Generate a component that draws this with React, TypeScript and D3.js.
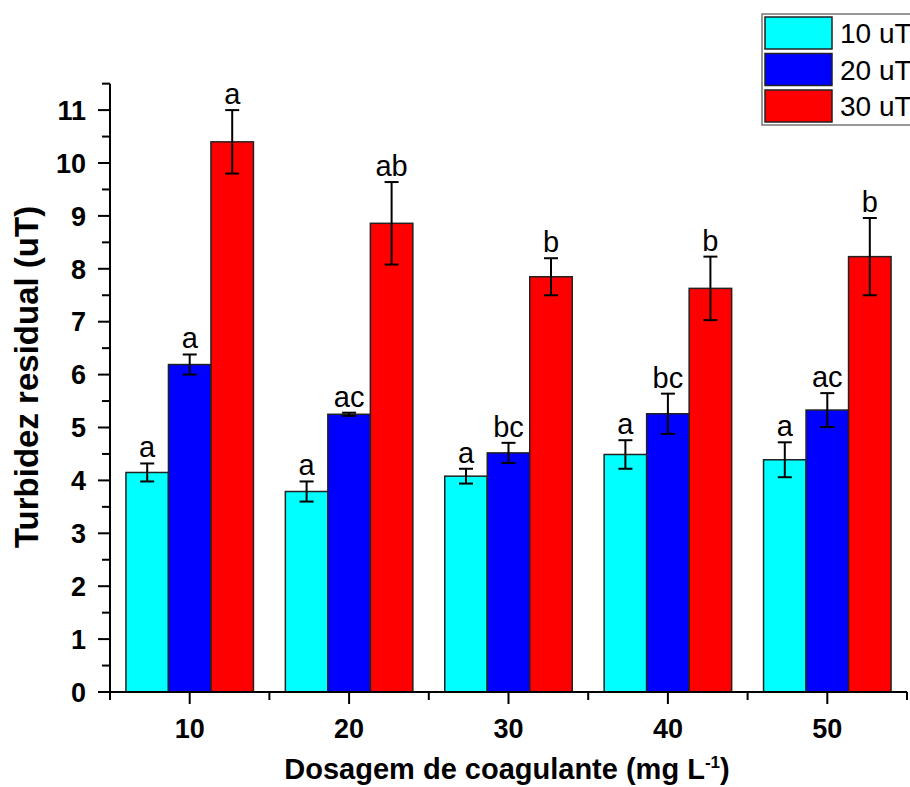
import React from "react";
import * as d3 from "d3";

const categories = ["10", "20", "30", "40", "50"];
const seriesNames = ["10 uT", "20 uT", "30 uT"];
const colors = ["#00FFFF", "#0000FF", "#FF0000"];
const values10 = [4.15, 3.79, 4.08, 4.49, 4.39];
const values20 = [6.19, 5.25, 4.52, 5.26, 5.33];
const values30 = [10.4, 8.86, 7.85, 7.63, 8.23];
const errors10 = [0.17, 0.19, 0.14, 0.27, 0.33];
const errors20 = [0.19, 0.03, 0.19, 0.38, 0.32];
const errors30 = [0.6, 0.78, 0.35, 0.6, 0.73];
const letters10 = ["a", "a", "a", "a", "a"];
const letters20 = ["a", "ac", "bc", "bc", "ac"];
const letters30 = ["a", "ab", "b", "b", "b"];
const yTicks = [0, 1, 2, 3, 4, 5, 6, 7, 8, 9, 10, 11];
const yMinorTicks = [0.5, 1.5, 2.5, 3.5, 4.5, 5.5, 6.5, 7.5, 8.5, 9.5, 10.5, 11.5];

const FONT = "'Liberation Sans', Arial, Helvetica, sans-serif";

export default function App() {
  const W = 910;
  const H = 787;
  const x0 = 110;
  const x1 = 907;
  const yBottom = 692;
  const y = d3.scaleLinear().domain([0, 11.5]).range([yBottom, yBottom - 11.5 * 52.9]);
  const x = d3.scaleBand<string>().domain(categories).range([x0, x1]).padding(0);
  const xs = d3
    .scaleBand<number>()
    .domain([0, 1, 2])
    .range([0, x.bandwidth()])
    .paddingInner(0)
    .paddingOuter(0.375);

  const vals = [values10, values20, values30];
  const errs = [errors10, errors20, errors30];
  const lets = [letters10, letters20, letters30];

  const minorX = categories.map((c) => x(c)!).concat([x1]);

  return (
    <svg
      width={W}
      height={H}
      style={{ position: "absolute", left: 0, top: 0, background: "#fff" }}
      fontFamily={FONT}
    >
      {/* bars */}
      {categories.map((c, ci) =>
        [0, 1, 2].map((si) => {
          const bx = x(c)! + xs(si)!;
          const v = vals[si][ci];
          return (
            <rect
              key={`b${ci}-${si}`}
              x={bx}
              y={y(v)}
              width={xs.bandwidth()}
              height={y(0) - y(v)}
              fill={colors[si]}
              stroke="#222"
              strokeWidth={1.5}
            />
          );
        })
      )}
      {/* error bars & letters */}
      {categories.map((c, ci) =>
        [0, 1, 2].map((si) => {
          const cx = x(c)! + xs(si)! + xs.bandwidth() / 2;
          const v = vals[si][ci];
          const e = errs[si][ci];
          const top = y(v + e);
          const bot = y(v - e);
          return (
            <g key={`e${ci}-${si}`} stroke="#000" strokeWidth={2}>
              <line x1={cx} x2={cx} y1={top} y2={bot} />
              <line x1={cx - 7} x2={cx + 7} y1={top} y2={top} />
              <line x1={cx - 7} x2={cx + 7} y1={bot} y2={bot} />
              <text
                x={cx}
                y={top - 6}
                textAnchor="middle"
                fontSize={29}
                fill="#000"
                stroke="none"
              >
                {lets[si][ci]}
              </text>
            </g>
          );
        })
      )}
      {/* y axis */}
      <line x1={x0} x2={x0} y1={y(11.5)} y2={yBottom + 8} stroke="#000" strokeWidth={2} />
      {yTicks.map((t) => (
        <g key={`yt${t}`}>
          <line x1={x0 - 12} x2={x0} y1={y(t)} y2={y(t)} stroke="#000" strokeWidth={2} />
          <text
            x={x0 - 24}
            y={y(t)}
            dy="0.36em"
            textAnchor="end"
            fontSize={27}
            fontWeight="bold"
          >
            {t}
          </text>
        </g>
      ))}
      {yMinorTicks.map((t) => (
        <line key={`ym${t}`} x1={x0 - 8} x2={x0} y1={y(t)} y2={y(t)} stroke="#000" strokeWidth={2} />
      ))}
      {/* x axis */}
      <line x1={x0 - 1} x2={x1} y1={yBottom} y2={yBottom} stroke="#000" strokeWidth={2} />
      {categories.map((c) => {
        const cx = x(c)! + x.bandwidth() / 2;
        return (
          <g key={`xt${c}`}>
            <line x1={cx} x2={cx} y1={yBottom} y2={yBottom + 12} stroke="#000" strokeWidth={2} />
            <text x={cx} y={738} textAnchor="middle" fontSize={27} fontWeight="bold">
              {c}
            </text>
          </g>
        );
      })}
      {minorX.map((mx, i) => (
        <line key={`xm${i}`} x1={mx} x2={mx} y1={yBottom} y2={yBottom + 8} stroke="#000" strokeWidth={2} />
      ))}
      {/* axis titles */}
      <text
        transform={`translate(38, 377) rotate(-90)`}
        textAnchor="middle"
        fontSize={33}
        fontWeight="bold"
      >
        Turbidez residual (uT)
      </text>
      <text x={507} y={779} textAnchor="middle" fontSize={29} fontWeight="bold">
        Dosagem de coagulante (mg L
        <tspan dy={-11} fontSize={17}>
          -1
        </tspan>
        <tspan dy={11}>)</tspan>
      </text>
      {/* legend */}
      <rect x={762} y={14} width={260} height={111} fill="#fff" stroke="#777" strokeWidth={1.5} />
      {seriesNames.map((s, i) => (
        <g key={`lg${i}`}>
          <rect
            x={765}
            y={17 + i * 36.5}
            width={67}
            height={32}
            fill={colors[i]}
            stroke="#222"
            strokeWidth={1.5}
          />
          <text x={840} y={17 + i * 36.5 + 26} fontSize={28}>
            {s}
          </text>
        </g>
      ))}
    </svg>
  );
}
